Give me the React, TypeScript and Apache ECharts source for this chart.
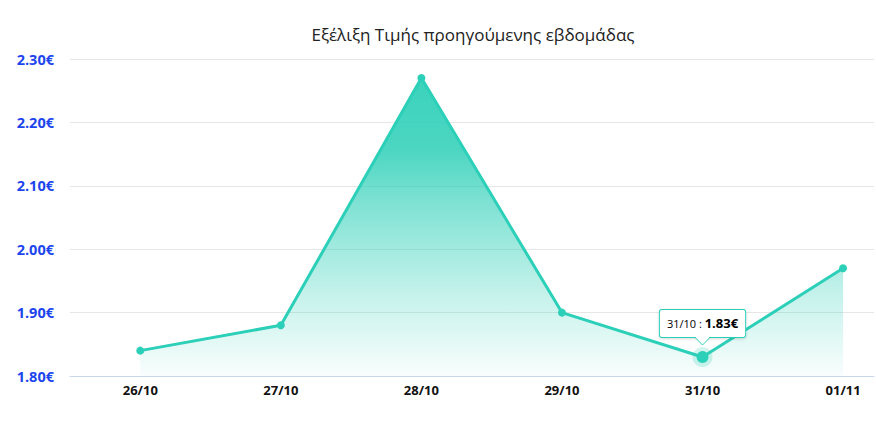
import React, { useEffect, useRef } from "react";
import * as echarts from "echarts";

const title = "Εξέλιξη Τιμής προηγούμενης εβδομάδας";
const categories = ["26/10", "27/10", "28/10", "29/10", "31/10", "01/11"];
const prices = [1.84, 1.88, 2.27, 1.9, 1.83, 1.97];
const highlightIndex = 4;

const TEAL = "#2ccfb7";
const FONT = "Open Sans";

export default function App() {
  const ref = useRef<HTMLDivElement>(null);
  useEffect(() => {
    const chart = echarts.init(ref.current!, null, { renderer: "svg" });
    chart.setOption({
      animation: false,
      title: {
        text: title,
        left: 468,
        textAlign: "center",
        top: 21,
        textStyle: { fontFamily: FONT, fontSize: 17, fontWeight: "normal", color: "#222" },
      },
      grid: { left: 70, right: 2, top: 59, bottom: 53 },
      xAxis: {
        type: "value",
        min: -0.5,
        max: 5.22,
        splitLine: { show: false },
        axisTick: { show: false },
        axisLine: { show: true, lineStyle: { color: "#c9d6ea", width: 1 } },
        axisLabel: {
          customValues: categories.map((_, i) => i),
          formatter: (v: number) => categories[Math.round(v)] ?? "",
          fontFamily: FONT,
          fontWeight: "bold",
          fontSize: 13,
          color: "#111",
          margin: 7,
        },
      },
      yAxis: {
        type: "value",
        min: 1.8,
        max: 2.3,
        interval: 0.1,
        axisLine: { show: false },
        axisTick: { show: false },
        splitLine: { lineStyle: { color: "#e6e6e6", width: 1 } },
        axisLabel: {
          formatter: (v: number) => v.toFixed(2) + "€",
          fontFamily: FONT,
          fontWeight: "bold",
          fontSize: 14.5,
          color: "#1d45ee",
          margin: 16,
        },
      },
      series: [
        {
          type: "line",
          data: prices.map((v, i) =>
            i === highlightIndex ? { value: [i, v], symbolSize: 12 } : [i, v]
          ),
          symbol: "circle",
          symbolSize: 8,
          itemStyle: { color: TEAL },
          lineStyle: { color: TEAL, width: 3 },
          areaStyle: {
            opacity: 1,
            color: new echarts.graphic.LinearGradient(0, 0, 0, 1, [
              { offset: 0, color: "rgba(44,207,183,0.93)" },
              { offset: 0.24, color: "rgba(44,207,183,0.85)" },
              { offset: 0.41, color: "rgba(44,207,183,0.62)" },
              { offset: 0.74, color: "rgba(44,207,183,0.26)" },
              { offset: 1, color: "rgba(44,207,183,0.03)" },
            ]),
          },
          z: 3,
        },
      ],
    });

    const p = chart.convertToPixel({ seriesIndex: 0 }, [highlightIndex, prices[highlightIndex]]) as number[];
    const px = p[0];
    const py = p[1];
    const boxBottom = py - 20;
    chart.setOption({
      graphic: [
        {
          type: "ring",
          shape: { cx: px, cy: py, r: 10, r0: 6 },
          style: { fill: "rgba(44,207,183,0.22)" },
          z: 10,
        },
        {
          type: "text",
          x: px,
          y: boxBottom,
          z: 20,
          style: {
            text: `{a|${categories[highlightIndex]} : }{b|${prices[highlightIndex].toFixed(2)}€}`,
            align: "center",
            verticalAlign: "bottom",
            backgroundColor: "#fff",
            borderColor: TEAL,
            borderWidth: 1,
            borderRadius: 2,
            padding: [7, 7, 7, 7],
            shadowColor: "rgba(0,0,0,0.15)",
            shadowBlur: 3,
            shadowOffsetY: 1,
            rich: {
              a: { fontFamily: FONT, fontSize: 11, color: "#333" },
              b: { fontFamily: FONT, fontSize: 13, fontWeight: "bold", color: "#111" },
            },
          },
        },
        {
          type: "polygon",
          z: 21,
          shape: { points: [[px - 8, boxBottom - 1], [px + 8, boxBottom - 1], [px, boxBottom + 8]] },
          style: { fill: "#fff" },
        },
        {
          type: "polyline",
          z: 22,
          shape: { points: [[px - 8, boxBottom], [px, boxBottom + 8], [px + 8, boxBottom]] },
          style: { stroke: TEAL, lineWidth: 1, fill: "none" },
        },
      ],
    });
    return () => chart.dispose();
  }, []);
  return (
    <div
      ref={ref}
      style={{ position: "fixed", left: 0, top: 0, width: 876, height: 429, background: "#fff" }}
    />
  );
}
